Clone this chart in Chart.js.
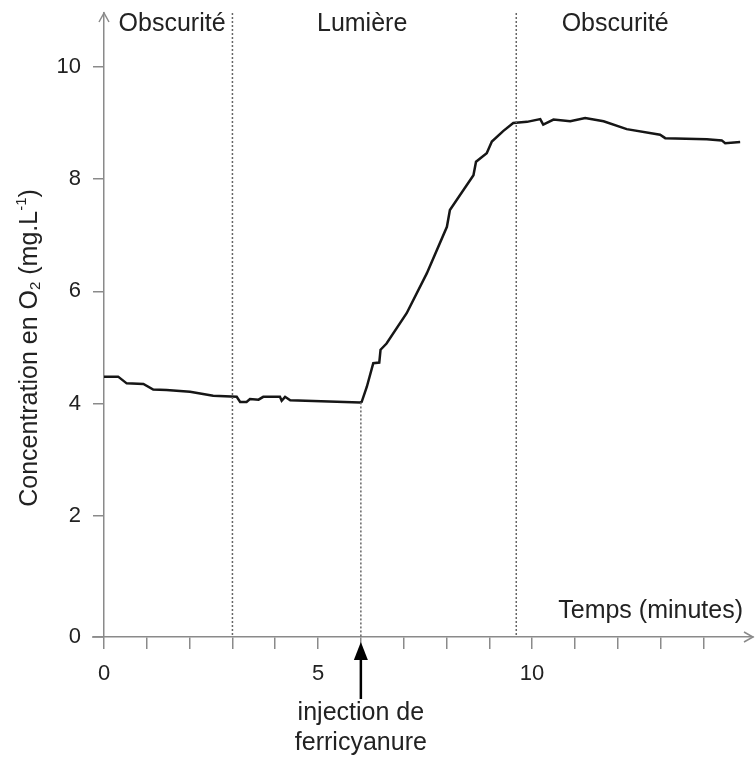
<!DOCTYPE html>
<html>
<head>
<meta charset="utf-8">
<script src="https://cdn.jsdelivr.net/npm/chart.js@4.4.0/dist/chart.umd.min.js"></script>
<style>
  html, body { margin: 0; padding: 0; background: #fff; }
  #wrap { width: 755px; height: 759px; position: relative; }
</style>
</head>
<body>
<div id="wrap"><canvas id="chart"></canvas></div>
<script>
// O2 concentration over time (minutes)
const time = [0, 0.33, 0.53, 0.92, 1.15, 1.46, 2.01, 2.55, 3.10, 3.18, 3.33, 3.41, 3.61, 3.72, 4.11, 4.15, 4.23, 4.35,
  5.98, 6.02, 6.14, 6.29, 6.43, 6.46, 6.60, 7.07, 7.54, 8.01, 8.08, 8.63, 8.69, 8.94, 9.06, 9.33, 9.56, 9.88,
  10.19, 10.26, 10.50, 10.89, 11.24, 11.67, 12.21, 12.99, 13.11, 14.08, 14.43, 14.51, 14.86];
const oxygen = [4.48, 4.48, 4.36, 4.35, 4.25, 4.24, 4.21, 4.14, 4.12, 4.03, 4.03, 4.08, 4.07, 4.12, 4.12, 4.05, 4.12, 4.06,
  4.02, 4.03, 4.30, 4.72, 4.73, 4.96, 5.07, 5.61, 6.32, 7.15, 7.45, 8.07, 8.31, 8.46, 8.67, 8.86, 9.00, 9.02,
  9.07, 8.97, 9.06, 9.03, 9.09, 9.03, 8.89, 8.79, 8.73, 8.71, 8.69, 8.64, 8.66];

const phaseBounds = [3, 9.63];          // dark -> light -> dark
const injectionTime = 6;
const injectionLevel = 4.02;
const phaseLabels = ['Obscurité', 'Lumière', 'Obscurité'];
const phaseLabelAt = [1.59, 6.03, 11.94];
const minuteTicks = [0, 1, 2, 3, 4, 5, 6, 7, 8, 9, 10, 11, 12, 13, 14];
const minuteLabels = [0, 5, 10];
const o2Ticks = [0, 2, 4, 6, 8, 10];

const X_MIN = 0, X_MAX = 15.16;
const Y_MIN = -0.16, Y_MAX = 10.96;

const FONT = '"Liberation Sans", Arial, sans-serif';
const AXIS = '#8a8a8a';
const INK = '#222';

var pts = time.map((t, i) => ({ x: t, y: oxygen[i] }));

const dotted = {
    borderColor: '#666',
    borderWidth: 1.5,
    borderDash: [2, 2],
    pointRadius: 0,
    showLine: true,
    fill: false
};

const decor = {
    id: 'decor',
    afterDraw: function(chart) {
        var ctx = chart.ctx,
            a = chart.chartArea,
            x = chart.scales.x;

        ctx.save();
        ctx.strokeStyle = AXIS;
        ctx.lineWidth = 1.5;

        // x axis runs a little past the y axis on the left
        ctx.beginPath();
        ctx.moveTo(a.left - 12, a.bottom);
        ctx.lineTo(a.left, a.bottom);
        ctx.stroke();

        // arrow heads on both axes
        ctx.beginPath();
        ctx.moveTo(a.left - 5, a.top + 9);
        ctx.lineTo(a.left, a.top);
        ctx.lineTo(a.left + 5, a.top + 9);
        ctx.moveTo(a.right - 9, a.bottom - 5);
        ctx.lineTo(a.right, a.bottom);
        ctx.lineTo(a.right - 9, a.bottom + 5);
        ctx.stroke();

        ctx.fillStyle = INK;
        ctx.font = '25px ' + FONT;
        ctx.textBaseline = 'middle';

        // phase names along the top
        ctx.textAlign = 'center';
        phaseLabels.forEach(function(txt, i) {
            ctx.fillText(txt, x.getPixelForValue(phaseLabelAt[i]), 24);
        });

        // x title, inside the plot
        ctx.textAlign = 'right';
        ctx.fillText('Temps (minutes)', 743, 611);

        // injection arrow under the axis
        var ix = x.getPixelForValue(injectionTime);
        ctx.strokeStyle = '#000';
        ctx.fillStyle = '#000';
        ctx.lineWidth = 2.5;
        ctx.beginPath();
        ctx.moveTo(ix, a.bottom + 18);
        ctx.lineTo(ix, a.bottom + 62);
        ctx.stroke();
        ctx.beginPath();
        ctx.moveTo(ix, a.bottom + 5);
        ctx.lineTo(ix - 7, a.bottom + 23);
        ctx.lineTo(ix + 7, a.bottom + 23);
        ctx.closePath();
        ctx.fill();

        ctx.fillStyle = INK;
        ctx.textAlign = 'center';
        ctx.fillText('injection de', ix, a.bottom + 76);
        ctx.fillText('ferricyanure', ix, a.bottom + 106);

        // rotated y title with sub/superscripts
        ctx.translate(30, 348);
        ctx.rotate(-Math.PI / 2);
        var parts = [
            ['Concentration en O', 25, 0],
            ['2', 15, 6],
            [' (mg.L', 25, 0],
            ['-1', 15, -8],
            [')', 25, 0]
        ];
        var total = 0;
        parts.forEach(function(p) {
            ctx.font = p[1] + 'px ' + FONT;
            total += ctx.measureText(p[0]).width;
        });
        var cx = -total / 2;
        ctx.textAlign = 'left';
        parts.forEach(function(p) {
            ctx.font = p[1] + 'px ' + FONT;
            ctx.fillText(p[0], cx, p[2]);
            cx += ctx.measureText(p[0]).width;
        });
        ctx.restore();
    }
};

new Chart(document.getElementById('chart'), {
    type: 'scatter',
    data: {
        datasets: [
            Object.assign({ data: [{ x: phaseBounds[0], y: Y_MAX }, { x: phaseBounds[0], y: Y_MIN }] }, dotted),
            Object.assign({ data: [{ x: phaseBounds[1], y: Y_MAX }, { x: phaseBounds[1], y: Y_MIN }] }, dotted),
            Object.assign({ data: [{ x: injectionTime, y: injectionLevel }, { x: injectionTime, y: Y_MIN }] }, dotted),
            {
                data: pts,
                showLine: true,
                borderColor: '#161616',
                borderWidth: 2.5,
                pointRadius: 0,
                tension: 0,
                fill: false
            }
        ]
    },
    options: {
        responsive: true,
        maintainAspectRatio: false,
        animation: false,
        layout: { padding: { left: 0, right: 2, top: 13, bottom: 0 } },
        plugins: {
            legend: { display: false },
            tooltip: { enabled: false }
        },
        scales: {
            x: {
                type: 'linear',
                min: X_MIN,
                max: X_MAX,
                afterBuildTicks: function(scale) {
                    scale.ticks = minuteTicks.map(v => ({ value: v }));
                },
                afterFit: function(scale) {
                    scale.height = 122;
                    scale.paddingLeft = 0;
                    scale.paddingRight = 0;
                },
                grid: {
                    drawOnChartArea: false,
                    drawTicks: true,
                    tickLength: 12,
                    color: AXIS,
                    lineWidth: 1.5
                },
                border: { display: true, color: AXIS, width: 1.5 },
                ticks: {
                    autoSkip: false,
                    maxRotation: 0,
                    padding: 12,
                    color: INK,
                    font: { family: FONT, size: 22 },
                    callback: function(v) {
                        return minuteLabels.includes(v) ? String(v) : '';
                    }
                }
            },
            y: {
                min: Y_MIN,
                max: Y_MAX,
                afterBuildTicks: function(scale) {
                    // the printed 0 sits on the time axis
                    scale.ticks = o2Ticks.map(v => ({ value: v === 0 ? Y_MIN : v }));
                },
                afterFit: function(scale) {
                    scale.width = 104;
                    scale.paddingTop = 0;
                    scale.paddingBottom = 0;
                },
                grid: {
                    drawOnChartArea: false,
                    drawTicks: true,
                    tickLength: 11,
                    color: AXIS,
                    lineWidth: 1.5
                },
                border: { display: true, color: AXIS, width: 1.5 },
                ticks: {
                    padding: 12,
                    color: INK,
                    font: { family: FONT, size: 22 },
                    callback: function(v) {
                        return v < 0.5 ? '0' : String(v);
                    }
                }
            }
        }
    },
    plugins: [decor]
});
</script>
</body>
</html>
